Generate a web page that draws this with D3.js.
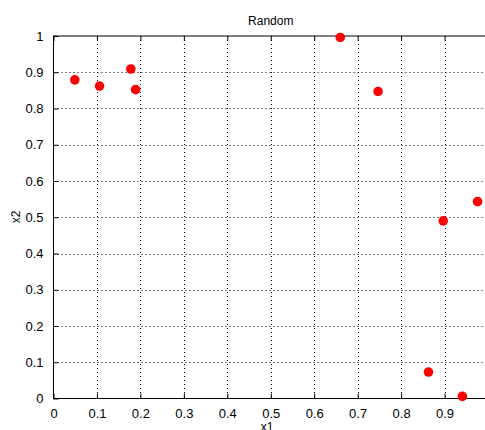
<!DOCTYPE html>
<html>
<head>
<meta charset="utf-8">
<script src="https://cdn.jsdelivr.net/npm/d3@7"></script>
<style>
  body { margin: 0; background: #fff; }
  svg { display: block; font-family: Arial, 'Liberation Sans', sans-serif; }
</style>
</head>
<body>
<svg id="chart"></svg>
<script>
const width = 485
const height = 430

// data
const x1 = [0.049, 0.106, 0.178, 0.189, 0.660, 0.747, 0.976, 0.897, 0.863, 0.941]
const x2 = [0.879, 0.862, 0.909, 0.852, 0.996, 0.847, 0.543, 0.490, 0.073, 0.006]
const xTicks = [0, 0.1, 0.2, 0.3, 0.4, 0.5, 0.6, 0.7, 0.8, 0.9, 1]
const yTicks = [0, 0.1, 0.2, 0.3, 0.4, 0.5, 0.6, 0.7, 0.8, 0.9, 1]

const margin = { left: 53.5, top: 36, bottom: 398.5, right: 488 }

const svg = d3.select('#chart').attr('width', width).attr('height', height)

const x = d3.scaleLinear().domain([0, 1]).range([margin.left, margin.right])
const y = d3.scaleLinear().domain([0, 1]).range([margin.bottom, margin.top])

// grid
const grid = svg.append('g')
grid.selectAll('.vg')
  .data(xTicks.slice(1, -1))
  .join('line')
  .attr('x1', (d) => Math.round(x(d)) + 0.5)
  .attr('x2', (d) => Math.round(x(d)) + 0.5)
  .attr('y1', margin.top)
  .attr('y2', margin.bottom)
  .attr('stroke', '#000')
  .attr('stroke-width', 1)
  .attr('stroke-dasharray', '1,3')
grid.selectAll('.hg')
  .data(yTicks.slice(1, -1))
  .join('line')
  .attr('y1', (d) => Math.round(y(d)) + 0.5)
  .attr('y2', (d) => Math.round(y(d)) + 0.5)
  .attr('x1', margin.left)
  .attr('x2', margin.right)
  .attr('stroke', '#000')
  .attr('stroke-width', 1)
  .attr('stroke-dasharray', '1,3')

// axes box
svg.append('rect')
  .attr('x', margin.left)
  .attr('y', margin.top)
  .attr('width', margin.right - margin.left)
  .attr('height', margin.bottom - margin.top)
  .attr('fill', 'none')
  .attr('stroke', '#000')
  .attr('stroke-width', 1)

// inward ticks, matlab style
const xAxisB = d3.axisBottom(x).tickValues(xTicks).tickSize(-5).tickPadding(10)
  .tickFormat(d3.format('~g'))
const xAxisT = d3.axisTop(x).tickValues(xTicks).tickSize(-5).tickFormat('')
const yAxisL = d3.axisLeft(y).tickValues(yTicks).tickSize(-5).tickPadding(10)
  .tickFormat(d3.format('~g'))

function style(g) {
  g.select('.domain').remove()
  g.selectAll('.tick line').attr('stroke', '#000')
  g.selectAll('.tick text')
    .attr('fill', '#000')
    .style('font-size', '13px')
    .style('font-family', 'Arial, "Liberation Sans", sans-serif')
}

const gxb = svg.append('g').attr('transform', `translate(0,${margin.bottom})`).call(xAxisB).call(style)
// the figure is cropped on the right, so the last label falls outside
gxb.selectAll('.tick').filter((d) => x(d) > width - 6).select('text').remove()
svg.append('g').attr('transform', `translate(0,${margin.top})`).call(xAxisT).call(style)
svg.append('g').attr('transform', `translate(${margin.left},0)`).call(yAxisL).call(style)

// points
svg.append('g')
  .selectAll('circle')
  .data(x1.map((d, i) => [d, x2[i]]))
  .join('circle')
  .attr('cx', (d) => x(d[0]))
  .attr('cy', (d) => y(d[1]))
  .attr('r', 4.8)
  .attr('fill', '#ff0000')

// labels
svg.append('text')
  .attr('x', (margin.left + margin.right) / 2)
  .attr('y', 25)
  .attr('text-anchor', 'middle')
  .style('font-size', '12px')
  .text('Random')

svg.append('text')
  .attr('x', 267)
  .attr('y', 431)
  .attr('text-anchor', 'middle')
  .style('font-size', '12px')
  .text('x1')

svg.append('text')
  .attr('transform', 'translate(20,217) rotate(-90)')
  .attr('text-anchor', 'middle')
  .style('font-size', '12px')
  .text('x2')
</script>
</body>
</html>
